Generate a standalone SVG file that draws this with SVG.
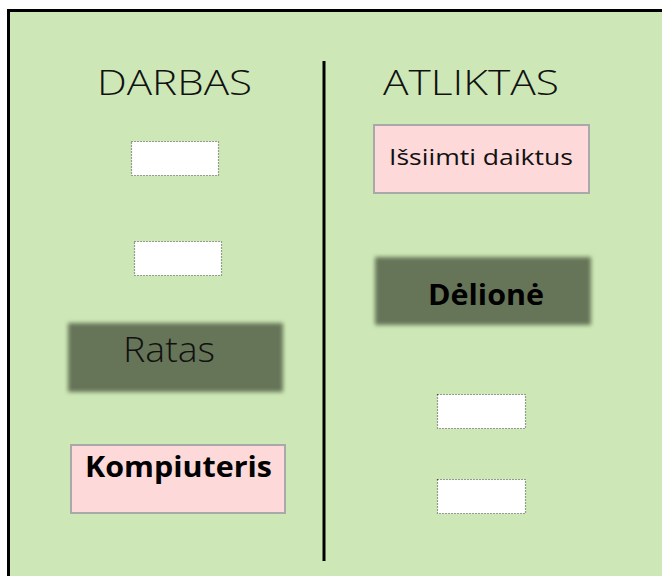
<svg xmlns="http://www.w3.org/2000/svg" width="662" height="576" viewBox="0 0 662 576">
<style>
.title{font-family:"Open Sans","Noto Sans",sans-serif;font-weight:300;font-size:35px;fill:#111}
.slot{fill:#ffffff;stroke:#444;stroke-width:1.2;stroke-dasharray:1 2}
.pink{fill:#fdd9d9;stroke:#a9a9a9;stroke-width:2}
.dark{fill:#667558;filter:url(#blur)}
.reg{font-family:"Open Sans","Noto Sans",sans-serif;font-weight:400;fill:#111}
.bold{font-family:"Open Sans","Noto Sans",sans-serif;font-weight:bold;fill:#000}
</style>
<defs>
<filter id="blur" x="-10%" y="-20%" width="120%" height="140%"><feGaussianBlur stdDeviation="2"/></filter>
</defs>
<rect x="0" y="0" width="662" height="576" fill="#ffffff"/>
<rect x="8.5" y="10.5" width="700" height="620" fill="#cde8b6" stroke="#000" stroke-width="3"/>
<g id="connectors">
<line x1="324" y1="61" x2="324" y2="561" stroke="#000" stroke-width="3"/>
</g>
<g id="title-darbas"><text class="title" x="174.5" y="95" text-anchor="middle" textLength="155" lengthAdjust="spacingAndGlyphs">DARBAS</text></g>
<g id="title-atliktas"><text class="title" x="471" y="95" text-anchor="middle" textLength="176" lengthAdjust="spacingAndGlyphs">ATLIKTAS</text></g>
<g id="slot-l1"><rect class="slot" x="131.5" y="141.5" width="87" height="34"/></g>
<g id="slot-l2"><rect class="slot" x="134.5" y="241.5" width="87" height="34"/></g>
<g id="node-ratas"><rect class="dark" x="68" y="323" width="215" height="69"/><text class="title" x="169" y="362" font-size="33" text-anchor="middle" textLength="92" lengthAdjust="spacingAndGlyphs">Ratas</text></g>
<g id="node-kompiuteris"><rect class="pink" x="71" y="445" width="214" height="68"/><text class="bold" x="178.5" y="477" font-size="29" text-anchor="middle" textLength="187" lengthAdjust="spacingAndGlyphs">Kompiuteris</text></g>
<g id="node-issiimti"><rect class="pink" x="374" y="125" width="215" height="68"/><text class="reg" x="481" y="165" font-size="22" text-anchor="middle" textLength="184" lengthAdjust="spacingAndGlyphs">Išsiimti daiktus</text></g>
<g id="node-delione"><rect class="dark" x="375" y="257" width="216" height="68"/><text class="bold" x="486" y="305" font-size="28" text-anchor="middle" textLength="116" lengthAdjust="spacingAndGlyphs">Dėlionė</text></g>
<g id="slot-r1"><rect class="slot" x="437.5" y="394.5" width="88" height="34"/></g>
<g id="slot-r2"><rect class="slot" x="437.5" y="479.5" width="88" height="34"/></g>
</svg>
